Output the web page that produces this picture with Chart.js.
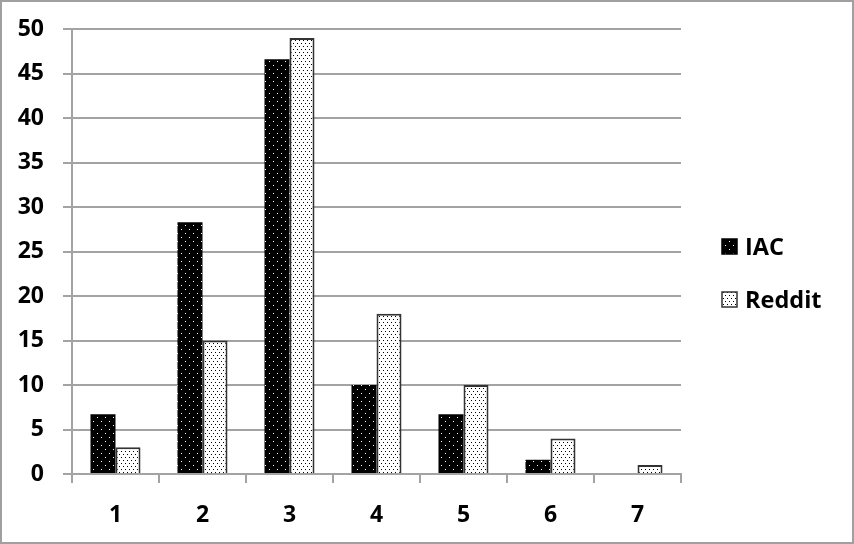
<!DOCTYPE html>
<html><head><meta charset="utf-8">
<script src="https://cdn.jsdelivr.net/npm/chart.js@4"></script>
<style>html,body{margin:0;padding:0;background:#fff}#wrap{width:854px;height:544px;position:relative}canvas{display:block}</style>
</head><body><div id="wrap"><canvas id="c" width="854" height="544"></canvas></div>
<script>
const categories = ['1', '2', '3', '4', '5', '6', '7'];
const seriesNames = ['IAC', 'Reddit'];
const iacValues = [6.7, 28.3, 46.6, 10, 6.7, 1.6, 0];
const redditValues = [3, 15, 49, 18, 10, 4, 1];
const yMin = 0, yMax = 50, yStep = 5;

const canvas = document.getElementById('c');
const ctx = canvas.getContext('2d');
function makePattern(bg, dot, w, h, dots) {
  const c = document.createElement('canvas');
  c.width = w; c.height = h;
  const x = c.getContext('2d');
  x.fillStyle = bg; x.fillRect(0, 0, w, h);
  x.fillStyle = dot;
  dots.forEach(([a, b]) => x.fillRect(a, b, 1, 1));
  return ctx.createPattern(c, 'repeat');
}
const iacFill = makePattern('#000', '#fff', 8, 8, [[1, 1], [5, 5]]);
const redditFill = makePattern('#fff', '#000', 4, 6, [[1, 1], [3, 4]]);
const GRID = '#a3a3a3';
const FONT = { family: 'Open Sans', weight: 'bold', size: 23 };

const legendPlugin = {
  id: 'customLegend',
  afterDraw(chart) {
    const c = chart.ctx, a = chart.chartArea;
    c.save();
    chart.data.datasets.forEach((ds, i) => {
      const x = a.right + 41, cy = a.top + 218 + i * 53;
      c.fillStyle = ds.backgroundColor;
      c.fillRect(x, cy - 8, 15, 15);
      c.lineWidth = 1.5;
      c.strokeStyle = ds.borderColor;
      c.strokeRect(x, cy - 8, 15, 15);
      c.fillStyle = '#000';
      c.font = 'bold 23.5px "Open Sans"';
      c.textBaseline = 'middle';
      c.textAlign = 'left';
      c.fillText(ds.label, x + 23, cy + 1);
    });
    c.restore();
  }
};
const framePlugin = {
  id: 'frame',
  afterDraw(chart) {
    const c = chart.ctx;
    c.save();
    c.strokeStyle = '#a0a0a0';
    c.lineWidth = 2;
    c.strokeRect(1, 1, 852, 542);
    c.restore();
  }
};

new Chart(canvas, {
  type: 'bar',
  data: {
    labels: categories,
    datasets: [
      { label: seriesNames[0], data: iacValues, backgroundColor: iacFill, borderColor: '#000', borderWidth: 0 },
      { label: seriesNames[1], data: redditValues, backgroundColor: redditFill, borderColor: '#333', borderWidth: 2, borderSkipped: 'bottom' }
    ]
  },
  options: {
    responsive: false,
    animation: false,
    devicePixelRatio: 1,
    layout: { padding: { left: 0, right: 173, top: 29, bottom: 0 } },
    datasets: { bar: { barPercentage: 1, categoryPercentage: 0.575 } },
    plugins: { legend: { display: false }, tooltip: { enabled: false } },
    scales: {
      x: {
        offset: true,
        grid: { display: true, drawOnChartArea: false, drawTicks: true, tickLength: 9, color: GRID, lineWidth: 2, offset: true },
        border: { display: true, color: GRID, width: 2 },
        ticks: { color: '#000', font: FONT, padding: 19 },
        afterFit(s) { s.height = 70; }
      },
      y: {
        min: yMin, max: yMax,
        grid: { color: GRID, lineWidth: 2, tickLength: 9, drawTicks: true },
        border: { display: true, color: GRID, width: 2 },
        ticks: { stepSize: yStep, color: '#000', font: FONT, padding: 19 },
        afterFit(s) { s.width = 72; s.paddingTop = 0; }
      }
    }
  },
  plugins: [legendPlugin, framePlugin]
});
</script>
</body></html>
